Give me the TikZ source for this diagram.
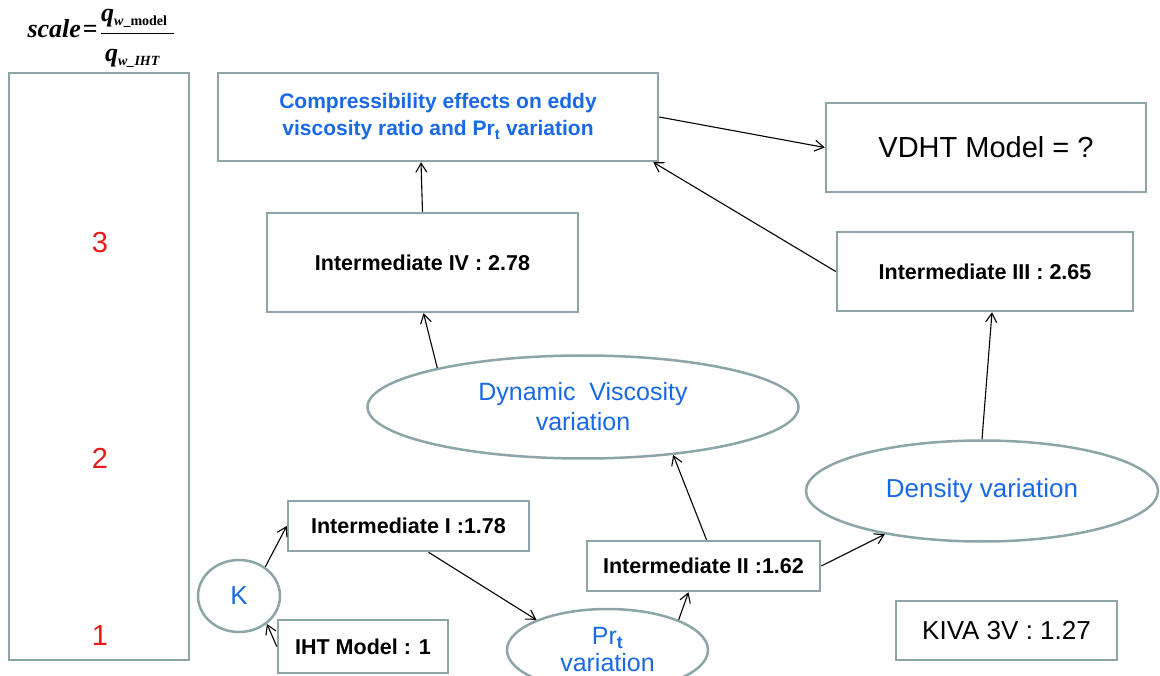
\documentclass[tikz,border=0pt]{standalone}
\usepackage{fontspec}
\setmainfont{Liberation Sans}
\newfontfamily\tnr{Liberation Serif}
\usetikzlibrary{shapes.geometric,arrows.meta,calc}
\definecolor{frame}{RGB}{140,165,168}
\definecolor{txtblue}{RGB}{25,105,230}
\definecolor{numred}{RGB}{235,25,25}
\begin{document}
\begin{tikzpicture}[x=1pt,y=-1pt,
  box/.style={draw=frame,line width=2.5pt,inner sep=0pt,align=center},
  oval/.style={ellipse,draw=frame,line width=2.5pt,inner sep=0pt,align=center,text=txtblue},
  interm/.style={font=\fontsize{21.5}{25}\selectfont\bfseries},
  plain/.style={font=\fontsize{26}{30}\selectfont},
  level/.style={text=numred,font=\fontsize{29}{30}\selectfont},
  formula/.style={inner sep=0pt,font=\tnr\fontsize{26}{26}\selectfont\bfseries\itshape},
  conn/.style={-{Straight Barb[length=9pt,width=11pt]},line width=1.1pt}]
\useasboundingbox (0,0) rectangle (1160,676);
\clip (0,0) rectangle (1160,676);

% scale definition
\node[formula,anchor=base east] (sc) at (99,38) {scale\kern2pt{\upshape=}\kern1pt};
\draw[line width=0.9pt] (101,33) -- (174,33);
\node[formula,anchor=base west] (qnum) at (101,22)
  {q\raisebox{-4pt}{\fontsize{14}{14}\selectfont w\upshape\_model}};
\node[formula,anchor=base west] (qden) at (105,62)
  {q\raisebox{-4pt}{\fontsize{14}{14}\selectfont w\_IHT}};

% scale bar
\node[box,minimum width=180,minimum height=587] (bar) at (99,366.5) {};
\node[level] (l3) at (100,243) {3};
\node[level] (l2) at (100,458) {2};
\node[level] (l1) at (100,636) {1};

% boxes
\node[box,minimum width=440,minimum height=88,text=txtblue,font=\fontsize{21}{27}\selectfont\bfseries] (comp) at (438,117)
  {Compressibility effects on eddy\\viscosity ratio and Pr\textsubscript{t} variation};
\node[box,minimum width=320,minimum height=89,font=\fontsize{29}{30}\selectfont] (vdht) at (986,147.5) {VDHT Model = ?};
\node[box,interm,minimum width=311,minimum height=99] (i4) at (422.5,262.5) {Intermediate IV : 2.78};
\node[box,interm,minimum width=296,minimum height=79] (i3) at (985,271.5) {Intermediate III : 2.65};
\node[box,interm,minimum width=241,minimum height=50] (i1) at (408.5,526) {Intermediate I :1.78};
\node[box,interm,minimum width=233,minimum height=50] (i2) at (703.5,566) {Intermediate II :1.62};
\node[box,interm,minimum width=170,minimum height=53] (iht) at (363,646.5) {IHT Model : 1};
\node[box,plain,minimum width=221,minimum height=59] (kiva) at (1006.5,630.5) {KIVA 3V : 1.27};

% ovals
\node[oval,font=\fontsize{25}{30}\selectfont,minimum width=431,minimum height=103] (dyn) at (583,407) {Dynamic\ \ Viscosity\\variation};
\node[oval,plain,minimum width=352,minimum height=101] (dens) at (982,491) {Density variation};
\node[oval,plain,minimum width=82,minimum height=72] (k) at (239,596) {K};
\node[oval,font=\fontsize{25}{27}\selectfont,minimum width=201,minimum height=82] (pr) at (607.5,650)
  {Pr\textsubscript{\bfseries t}\\variation};

% connectors
\draw[conn] (k.48) -- (i1.west);
\draw[conn] (iht.west) -- (k.-45);
\draw[conn] ($(i1.south)+(20,0)$) -- (pr.157);
\draw[conn] (pr.23) -- ($(i2.south)+(-15,0)$);
\draw[conn] ($(i2.north)+(3,0)$) -- (dyn.-28);
\draw[conn] (i2.east) -- (dens.204);
\draw[conn] (dens.north) -- ($(i3.south)+(7,0)$);
\draw[conn] (dyn.165) -- ($(i4.south)+(1,0)$);
\draw[conn] (i4.north) -- ($(comp.south)+(-17,0)$);
\draw[conn] (i3.west) -- ($(comp.south east)+(-6,0)$);
\draw[conn] (comp.east) -- (vdht.west);
\end{tikzpicture}
\end{document}
